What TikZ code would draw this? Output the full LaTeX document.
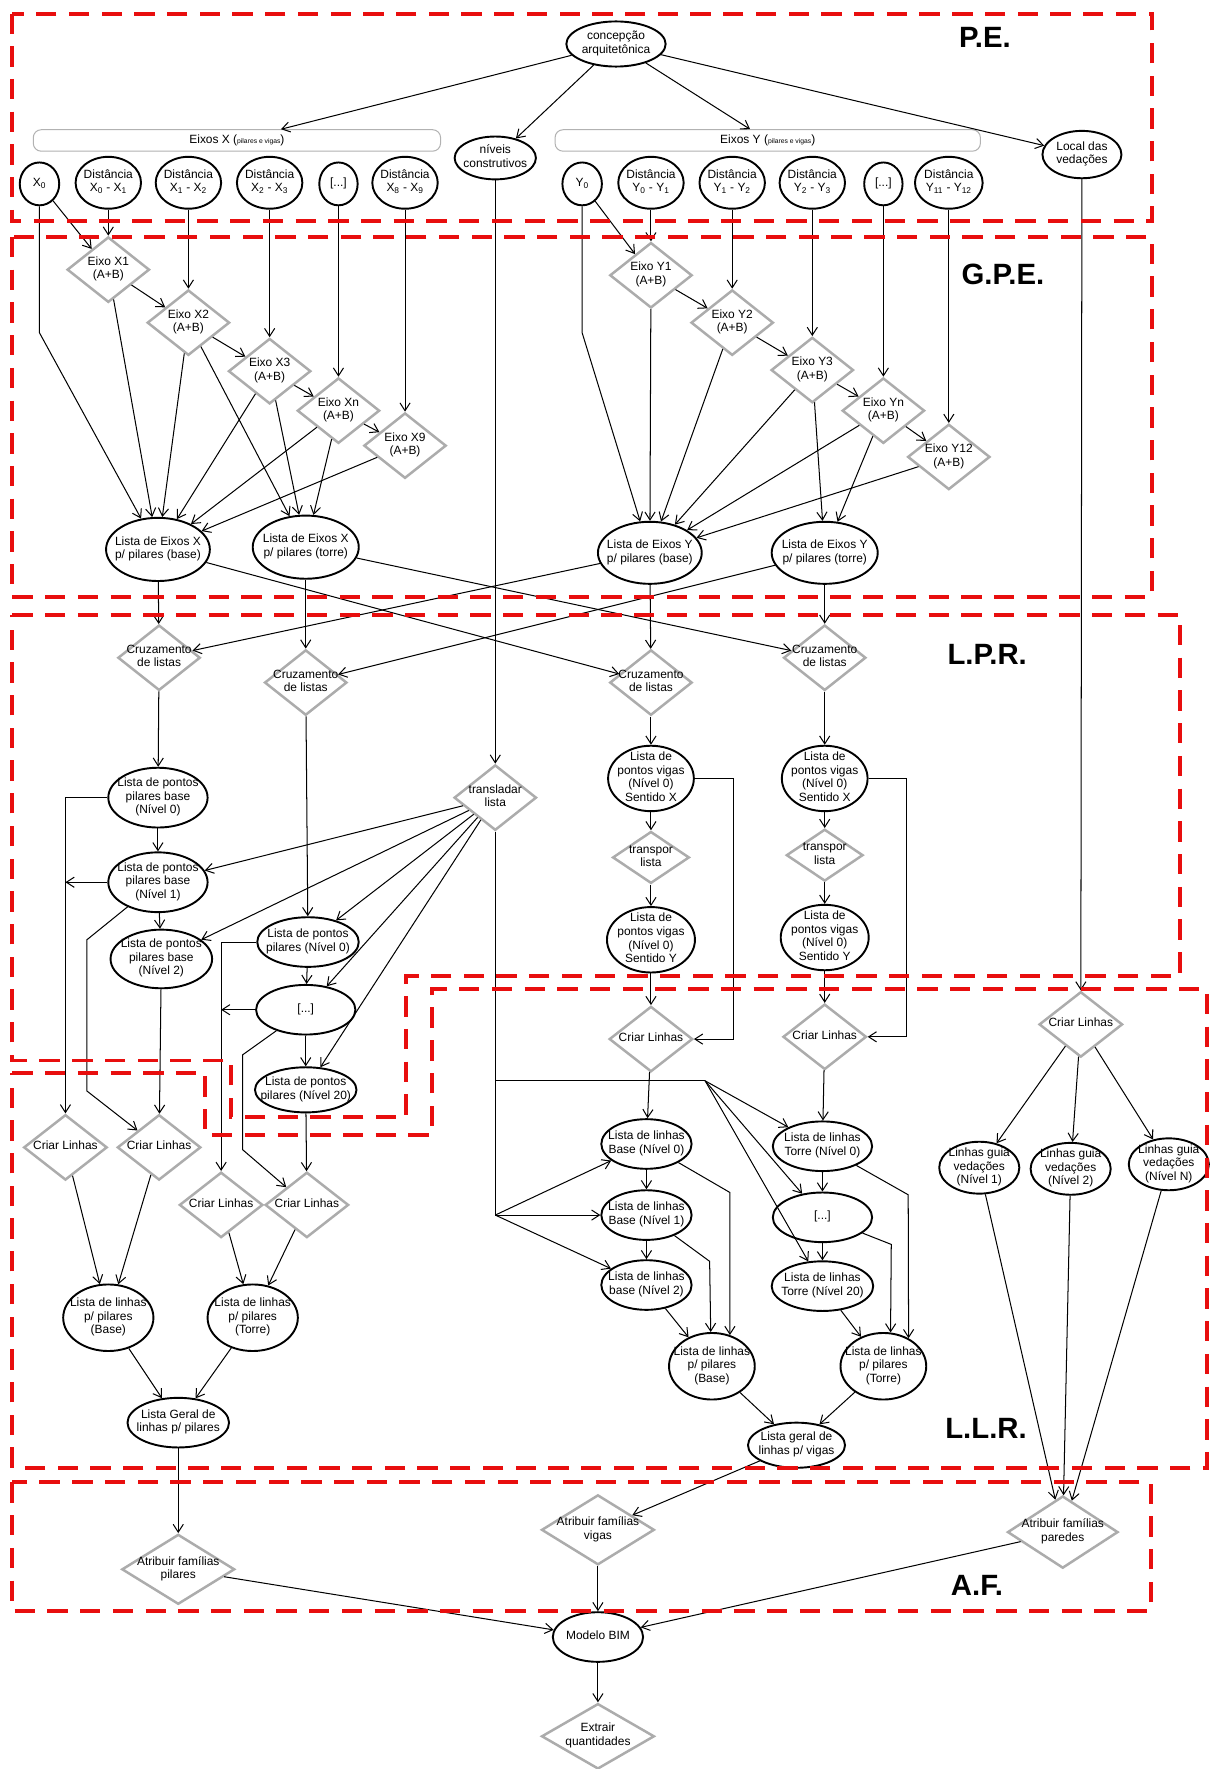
\documentclass[tikz,border=0pt]{standalone}
\usepackage{fontspec}
\setmainfont{Liberation Sans}
\usetikzlibrary{shapes.geometric,arrows.meta}

\definecolor{zonered}{RGB}{232,14,14}
\definecolor{opgray}{RGB}{172,172,172}

% centred multi-line text that does not widen its node
\newcommand{\tx}[1]{\smash{\makebox[0pt]{\raisebox{-2.5pt}{\begin{tabular}{@{}c@{}}#1\end{tabular}}}}}

\tikzset{sz/.style 2 args={minimum width=#1pt, minimum height=#2pt},
lst/.style={ellipse, draw, line width=1.7pt, fill=white, inner sep=0pt},
op/.style={diamond, draw=opgray, line width=2.2pt, fill=white, inner sep=0pt, minimum width=73pt, minimum height=58pt},
axisbox/.style={draw=gray!60, rounded corners=7pt, line width=0.9pt, inner sep=0pt},
flow/.style={-{Straight Barb[length=7pt,width=9pt]}, line width=0.9pt},
zone/.style={draw=zonered, line width=3.5pt, dash pattern=on 18pt off 11pt},
zonetag/.style={font=\fontsize{26}{26}\selectfont\bfseries}}

\begin{document}
\begin{tikzpicture}[x=1pt, y=-1pt, font=\fontsize{10.6}{12}\selectfont]
\fill[white] (0,0) rectangle (1073,1568);
\useasboundingbox (0,0) rectangle (1073,1568);

% P.E.
\node[lst, sz={88}{40}] (arq) at (546,39) {\tx{concepção\\arquitetônica}};
\node[axisbox, minimum width=361pt, minimum height=19pt] (eixx) at (210,124.5) {Eixos X ({\fontsize{6}{7}\selectfont pilares e vigas})};
\node[axisbox, minimum width=377pt, minimum height=19pt] (eixy) at (680.5,124.5) {Eixos Y ({\fontsize{6}{7}\selectfont pilares e vigas})};
\node[lst, sz={72}{38}] (niv) at (439,140) {\tx{níveis\\construtivos}};
\node[lst, sz={70}{42}] (loc) at (959,137) {\tx{Local das\\vedações}};

\node[lst, sz={35}{38}] (x0) at (35,163) {\tx{X\textsubscript{0}}};
\node[lst, sz={58}{46}] (dx1) at (96,162) {\tx{Distância\\X\textsubscript{0} - X\textsubscript{1}}};
\node[lst, sz={58}{46}] (dx2) at (167,162) {\tx{Distância\\X\textsubscript{1} - X\textsubscript{2}}};
\node[lst, sz={58}{46}] (dx3) at (239,162) {\tx{Distância\\X\textsubscript{2} - X\textsubscript{3}}};
\node[lst, sz={34}{38}] (xdots) at (300,163) {\tx{[...]}};
\node[lst, sz={58}{46}] (dx9) at (359,162) {\tx{Distância\\X\textsubscript{8} - X\textsubscript{9}}};

\node[lst, sz={35}{38}] (y0) at (516,163) {\tx{Y\textsubscript{0}}};
\node[lst, sz={58}{46}] (dy1) at (577,162) {\tx{Distância\\Y\textsubscript{0} - Y\textsubscript{1}}};
\node[lst, sz={58}{46}] (dy2) at (649,162) {\tx{Distância\\Y\textsubscript{1} - Y\textsubscript{2}}};
\node[lst, sz={58}{46}] (dy3) at (720,162) {\tx{Distância\\Y\textsubscript{2} - Y\textsubscript{3}}};
\node[lst, sz={34}{38}] (ydots) at (783,163) {\tx{[...]}};
\node[lst, sz={60}{46}] (dy12) at (841,162) {\tx{Distância\\Y\textsubscript{11} - Y\textsubscript{12}}};

\node[zonetag] (tpe) at (873,33) {P.E.};

\draw[flow] (arq) -- (eixx);
\draw[flow] (arq) -- (niv);
\draw[flow] (arq) -- (eixy);
\draw[flow] (arq) -- (loc);

% G.P.E.
\node[op] (ex1) at (96,239) {\tx{Eixo X1\\(A+B)}};
\node[op] (ex2) at (167,286) {\tx{Eixo X2\\(A+B)}};
\node[op] (ex3) at (239,329) {\tx{Eixo X3\\(A+B)}};
\node[op] (exn) at (300,364) {\tx{Eixo Xn\\(A+B)}};
\node[op] (ex9) at (359,395) {\tx{Eixo X9\\(A+B)}};
\node[op] (ey1) at (577,244) {\tx{Eixo Y1\\(A+B)}};
\node[op] (ey2) at (649,286) {\tx{Eixo Y2\\(A+B)}};
\node[op] (ey3) at (720,328) {\tx{Eixo Y3\\(A+B)}};
\node[op] (eyn) at (783,364) {\tx{Eixo Yn\\(A+B)}};
\node[op] (ey12) at (841,405) {\tx{Eixo Y12\\(A+B)}};

\node[lst, sz={92}{56}] (lxb) at (140,487) {\tx{Lista de Eixos X\\p/ pilares (base)}};
\node[lst, sz={94}{56}] (lxt) at (271,485) {\tx{Lista de Eixos X\\p/ pilares (torre)}};
\node[lst, sz={92}{55}] (lyb) at (576,490) {\tx{Lista de Eixos Y\\p/ pilares (base)}};
\node[lst, sz={94}{55}] (lyt) at (731,490) {\tx{Lista de Eixos Y\\p/ pilares (torre)}};

\node[zonetag] (tgpe) at (889,243) {G.P.E.};

\coordinate (x0k) at (35,295);
\coordinate (y0k) at (516,295);
\draw[flow] (x0) -- (ex1);
\draw[flow] (x0) -- (x0k) -- (lxb);
\draw[flow] (y0) -- (ey1);
\draw[flow] (y0) -- (y0k) -- (lyb);

\foreach \a/\b in {dx1/ex1,dx2/ex2,dx3/ex3,xdots/exn,dx9/ex9,
                   dy1/ey1,dy2/ey2,dy3/ey3,ydots/eyn,dy12/ey12,
                   ex1/ex2,ex2/ex3,ex3/exn,exn/ex9,
                   ey1/ey2,ey2/ey3,ey3/eyn,eyn/ey12}
     \draw[flow] (\a) -- (\b);

\foreach \a in {ex1,ex2,ex3,exn,ex9}
     \draw[flow] (\a) -- (lxb);
\foreach \a in {ex2,ex3,exn}
     \draw[flow] (\a) -- (lxt);
\foreach \a in {ey1,ey2,ey3,eyn,ey12}
     \draw[flow] (\a) -- (lyb);
\foreach \a in {ey3,eyn}
     \draw[flow] (\a) -- (lyt);

% L.P.R.
\node[op] (cr1) at (141,583) {\tx{Cruzamento\\de listas}};
\node[op] (cr2) at (271,605) {\tx{Cruzamento\\de listas}};
\node[op] (cr3) at (577,605) {\tx{Cruzamento\\de listas}};
\node[op] (cr4) at (731,583) {\tx{Cruzamento\\de listas}};
\node[op] (trl) at (439,707) {\tx{transladar\\lista}};

\node[lst, sz={88}{53}] (pb0) at (140,707) {\tx{Lista de pontos\\pilares base\\(Nível 0)}};
\node[lst, sz={88}{53}] (pb1) at (140,782) {\tx{Lista de pontos\\pilares base\\(Nível 1)}};
\node[lst, sz={90}{52}] (pb2) at (143,850) {\tx{Lista de pontos\\pilares base\\(Nível 2)}};
\node[lst, sz={90}{44}] (pp0) at (273,835) {\tx{Lista de pontos\\pilares (Nível 0)}};
\node[lst, sz={88}{44}] (pdots) at (271,895) {\tx{[...]}};
\node[lst, sz={90}{40}] (p20) at (271,966) {\tx{Lista de pontos\\pilares (Nível 20)}};

\node[lst, sz={76}{58}] (vx3) at (577,690) {\tx{Lista de\\pontos vigas\\(Nível 0)\\Sentido X}};
\node[op, sz={68}{46}] (tp3) at (577,760) {\tx{transpor\\lista}};
\node[lst, sz={78}{58}] (vy3) at (577,833) {\tx{Lista de\\pontos vigas\\(Nível 0)\\Sentido Y}};
\node[lst, sz={76}{58}] (vx4) at (731,690) {\tx{Lista de\\pontos vigas\\(Nível 0)\\Sentido X}};
\node[op, sz={68}{46}] (tp4) at (731,758) {\tx{transpor\\lista}};
\node[lst, sz={78}{58}] (vy4) at (731,831) {\tx{Lista de\\pontos vigas\\(Nível 0)\\Sentido Y}};

\node[zonetag] (tlpr) at (875,580) {L.P.R.};

\draw[flow] (lxb) -- (cr1);
\draw[flow] (lxb) -- (cr3);
\draw[flow] (lxt) -- (cr2);
\draw[flow] (lxt) -- (cr4);
\draw[flow] (lyb) -- (cr1);
\draw[flow] (lyb) -- (cr3);
\draw[flow] (lyt) -- (cr2);
\draw[flow] (lyt) -- (cr4);
\draw[flow] (niv) -- (trl);

\foreach \a/\b in {cr1/pb0,pb0/pb1,pb1/pb2,cr2/pp0,pp0/pdots,pdots/p20,
                   trl/pb1,trl/pb2,trl/pp0,trl/pdots,trl/p20,
                   cr3/vx3,vx3/tp3,tp3/vy3,cr4/vx4,vx4/tp4,tp4/vy4}
     \draw[flow] (\a) -- (\b);

% L.L.R.
\node[op, sz={74}{58}] (cl3) at (577,921) {\tx{Criar Linhas}};
\node[op, sz={74}{58}] (cl4) at (731,919) {\tx{Criar Linhas}};
\node[op, sz={74}{58}] (clw) at (958,908) {\tx{Criar Linhas}};
\node[op, sz={74}{58}] (ca) at (58,1017) {\tx{Criar Linhas}};
\node[op, sz={74}{58}] (cb) at (141,1017) {\tx{Criar Linhas}};
\node[op, sz={74}{58}] (cc) at (196,1068) {\tx{Criar Linhas}};
\node[op, sz={74}{58}] (cd) at (272,1068) {\tx{Criar Linhas}};

\node[lst, sz={80}{59}] (llb) at (96,1168) {\tx{Lista de linhas\\p/ pilares\\(Base)}};
\node[lst, sz={80}{59}] (llt) at (224,1168) {\tx{Lista de linhas\\p/ pilares\\(Torre)}};
\node[lst, sz={90}{44}] (lgp) at (158,1261) {\tx{Lista Geral de\\linhas p/ pilares}};

\node[lst, sz={80}{44}] (lb0) at (573,1014) {\tx{Lista de linhas\\Base (Nível 0)}};
\node[lst, sz={80}{44}] (lb1) at (573,1077) {\tx{Lista de linhas\\Base (Nível 1)}};
\node[lst, sz={80}{44}] (lb2) at (573,1139) {\tx{Lista de linhas\\base (Nível 2)}};
\node[lst, sz={88}{44}] (lt0) at (729,1016) {\tx{Lista de linhas\\Torre (Nível 0)}};
\node[lst, sz={88}{44}] (ltd) at (729,1079) {\tx{[...]}};
\node[lst, sz={90}{44}] (lt20) at (729,1140) {\tx{Lista de linhas\\Torre (Nível 20)}};
\node[lst, sz={76}{59}] (lpb) at (631,1211) {\tx{Lista de linhas\\p/ pilares\\(Base)}};
\node[lst, sz={76}{59}] (lpt) at (783,1211) {\tx{Lista de linhas\\p/ pilares\\(Torre)}};
\node[lst, sz={86}{40}] (lgv) at (706,1281) {\tx{Lista geral de\\linhas p/ vigas}};

\node[lst, sz={71}{46}] (gv1) at (868,1035) {\tx{Linhas guia\\vedações\\(Nível 1)}};
\node[lst, sz={71}{46}] (gv2) at (949,1036) {\tx{Linhas guia\\vedações\\(Nível 2)}};
\node[lst, sz={71}{46}] (gvn) at (1036,1032) {\tx{Linhas guia\\vedações\\(Nível N)}};

\node[zonetag] (tllr) at (874,1266) {L.L.R.};

\draw[flow] (vy3) -- (cl3);
\draw[flow] (vy4) -- (cl4);
\draw[flow] (vx3.east) -- ++(34,0) |- (cl3.east);
\draw[flow] (vx4.east) -- ++(34,0) |- (cl4.east);
\draw[flow] (loc) -- (clw);

% left columns
\coordinate (b1a) at (77,833);
\coordinate (b1b) at (77,967);
\coordinate (bda) at (215,935);
\coordinate (bdb) at (215,1019);
\draw[flow] (pb0.west) -| (ca);
\draw[flow] (pb1.west) -- (pb1.west -| ca);
\draw[flow] (pb1) -- (b1a) -- (b1b) -- (cb);
\draw[flow] (pb2) -- (cb);
\draw[flow] (pp0.west) -| (cc);
\draw[flow] (pdots.west) -- (pdots.west -| cc);
\draw[flow] (pdots) -- (bda) -- (bdb) -- (cd);
\draw[flow] (p20) -- (cd);

\foreach \a/\b in {ca/llb,cb/llb,cc/llt,cd/llt,llb/lgp,llt/lgp}
     \draw[flow] (\a) -- (\b);

% levels from transladar
\coordinate (ja) at (439,958);
\coordinate (jb) at (439,1077);
\coordinate (jc) at (625,958);
\draw[line width=0.9pt] (trl) -- (jb);
\draw[line width=0.9pt] (ja) -- (jc);
\foreach \b in {lb0,lb1,lb2}
     \draw[flow] (jb) -- (\b);
\foreach \b in {lt0,ltd,lt20}
     \draw[flow] (jc) -- (\b);

\foreach \a/\b in {cl3/lb0,lb0/lb1,lb1/lb2,cl4/lt0,lt0/ltd,ltd/lt20,
                   lb2/lpb,lt20/lpt,lpb/lgv,lpt/lgv,
                   clw/gv1,clw/gv2,clw/gvn}
     \draw[flow] (\a) -- (\b);

\coordinate (kb0) at (647,1057);
\coordinate (kb1) at (629,1118);
\coordinate (kt0) at (805,1059);
\coordinate (ktd) at (790,1103);
\draw[flow] (lb0) -- (kb0) -- (lpb.60);
\draw[flow] (lb1) -- (kb1) -- (lpb.92);
\draw[flow] (lt0) -- (kt0) -- (lpt.48);
\draw[flow] (ltd) -- (ktd) -- (lpt.78);

% A.F.
\node[op, sz={100}{62}] (afp) at (158,1391) {\tx{Atribuir famílias\\pilares}};
\node[op, sz={100}{62}] (afv) at (530,1356) {\tx{Atribuir famílias\\vigas}};
\node[op, sz={98}{64}] (afw) at (942,1358) {\tx{Atribuir famílias\\paredes}};
\node[lst, sz={80}{44}] (bim) at (530,1451) {\tx{Modelo BIM}};
\node[op, sz={100}{58}] (ext) at (530,1539) {\tx{Extrair\\quantidades}};

\node[zonetag] (taf) at (866,1405) {A.F.};

\foreach \a/\b in {lgp/afp,lgv/afv,gv1/afw,gv2/afw,gvn/afw,
                   afp/bim,afv/bim,afw/bim,bim/ext}
     \draw[flow] (\a) -- (\b);

% zones
\draw[zone] (11,12) rectangle (1021,196);
\draw[zone] (11,210) rectangle (1021,529);
\draw[zone] (11,545) -- (1046,545) -- (1046,865) -- (360,865) -- (360,990)
     -- (205,990) -- (205,940) -- (11,940) -- cycle;
\draw[zone] (11,951) -- (182,951) -- (182,1006) -- (383,1006) -- (383,877)
     -- (1070,877) -- (1070,1301) -- (11,1301) -- cycle;
\draw[zone] (11,1314) rectangle (1020,1428);

\end{tikzpicture}
\end{document}
